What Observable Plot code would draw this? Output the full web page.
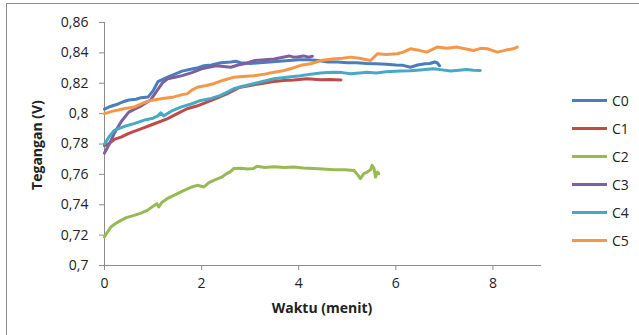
<!DOCTYPE html>
<html><head><meta charset="utf-8">
<script src="https://cdn.jsdelivr.net/npm/d3@7"></script>
<script src="https://cdn.jsdelivr.net/npm/@observablehq/plot@0.6"></script>
<style>
body{margin:0;background:#fff;}
#wrap{position:relative;width:639px;height:335px;overflow:hidden;font-family:"Open Sans",sans-serif;color:#222;}
#frame{position:absolute;left:6px;top:3px;width:700px;height:400px;border:1.5px solid #8c8c8c;box-sizing:border-box;}
#wrap svg.plot{position:absolute;left:0;top:0;}
.lab{position:absolute;font-weight:bold;font-size:14px;white-space:nowrap;}
.leg{position:absolute;left:572px;font-size:14px;display:flex;align-items:center;height:20px;}
.leg span.l{display:inline-block;width:35px;height:3px;margin-right:5px;}
</style></head>
<body><div id="wrap"><div id="frame"></div></div>
<script>
const seriesNames = ["C0","C1","C2","C3","C4","C5"];
const seriesColors = ["#4a7ebb","#be4b48","#98b954","#7d60a0","#46aac5","#f79646"];
const yTicks = [0.70,0.72,0.74,0.76,0.78,0.80,0.82,0.84,0.86];
const xTicks = [0,2,4,6,8];

const c0 = [[0,0.803],[0.1,0.8045],[0.25,0.806],[0.4,0.808],[0.5,0.809],[0.65,0.8095],[0.75,0.8105],[0.9,0.811],[1.0,0.815],[1.1,0.821],[1.3,0.824],[1.45,0.826],[1.6,0.828],[1.75,0.829],[1.9,0.830],[2.05,0.8315],[2.2,0.832],[2.4,0.8335],[2.6,0.834],[2.7,0.8345],[2.8,0.8335],[3.0,0.833],[3.2,0.8335],[3.4,0.834],[3.6,0.8345],[3.8,0.835],[4.0,0.8355],[4.2,0.8355],[4.4,0.835],[4.6,0.834],[4.8,0.834],[5.0,0.8335],[5.2,0.8335],[5.4,0.833],[5.6,0.8328],[5.8,0.8325],[6.0,0.832],[6.15,0.8318],[6.3,0.8305],[6.45,0.832],[6.6,0.8328],[6.7,0.833],[6.8,0.834],[6.85,0.8335],[6.9,0.8315]];
const c1 = [[0,0.779],[0.1,0.7805],[0.2,0.783],[0.34,0.7845],[0.5,0.787],[0.75,0.790],[1.0,0.793],[1.29,0.7966],[1.5,0.800],[1.7,0.8032],[1.9,0.805],[2.11,0.8076],[2.3,0.810],[2.52,0.813],[2.7,0.816],[2.8,0.8174],[3.0,0.8185],[3.21,0.8197],[3.45,0.821],[3.69,0.8218],[3.9,0.8222],[4.17,0.823],[4.45,0.8223],[4.65,0.8225],[4.87,0.8222]];
const c2 = [[0,0.7188],[0.06,0.722],[0.13,0.7253],[0.22,0.7275],[0.34,0.7297],[0.45,0.7315],[0.61,0.733],[0.75,0.7345],[0.88,0.7363],[1.0,0.739],[1.08,0.7407],[1.12,0.7385],[1.18,0.7415],[1.29,0.744],[1.45,0.7465],[1.64,0.7495],[1.78,0.7515],[1.91,0.7528],[2.05,0.7517],[2.15,0.7545],[2.25,0.756],[2.4,0.758],[2.52,0.7605],[2.6,0.762],[2.66,0.7638],[2.8,0.764],[2.95,0.7635],[3.07,0.7638],[3.14,0.7653],[3.3,0.7645],[3.5,0.765],[3.7,0.7645],[3.9,0.7648],[4.1,0.7642],[4.31,0.7638],[4.5,0.7635],[4.72,0.7631],[4.95,0.763],[5.14,0.7626],[5.22,0.7595],[5.27,0.7572],[5.34,0.7605],[5.41,0.7615],[5.48,0.763],[5.51,0.7659],[5.55,0.764],[5.58,0.7582],[5.62,0.7615],[5.65,0.7605]];
const c3 = [[0,0.774],[0.05,0.777],[0.1,0.780],[0.2,0.787],[0.35,0.795],[0.5,0.801],[0.62,0.803],[0.75,0.805],[0.95,0.809],[1.1,0.816],[1.2,0.8205],[1.3,0.823],[1.45,0.824],[1.6,0.825],[1.8,0.827],[2.0,0.8295],[2.15,0.8305],[2.3,0.8315],[2.45,0.831],[2.6,0.8305],[2.75,0.832],[2.9,0.833],[3.1,0.835],[3.3,0.8355],[3.5,0.836],[3.65,0.837],[3.8,0.838],[3.9,0.8372],[4.0,0.8375],[4.1,0.838],[4.2,0.8372],[4.28,0.8378]];
const c4 = [[0,0.780],[0.1,0.785],[0.2,0.789],[0.4,0.7915],[0.61,0.7934],[0.85,0.796],[1.0,0.797],[1.1,0.7985],[1.16,0.8005],[1.22,0.7985],[1.4,0.802],[1.57,0.8043],[1.8,0.8065],[1.98,0.8087],[2.2,0.810],[2.39,0.812],[2.55,0.8145],[2.66,0.8164],[2.85,0.818],[3.07,0.8197],[3.3,0.8215],[3.49,0.823],[3.75,0.824],[4.04,0.825],[4.25,0.826],[4.45,0.8267],[4.6,0.827],[4.72,0.8273],[4.9,0.827],[5.07,0.8262],[5.25,0.8268],[5.41,0.8272],[5.6,0.8268],[5.8,0.8275],[6.1,0.828],[6.3,0.8283],[6.5,0.8288],[6.78,0.8295],[6.95,0.8288],[7.13,0.828],[7.3,0.8285],[7.46,0.829],[7.6,0.8285],[7.74,0.8284]];
const c5 = [[0,0.800],[0.15,0.8015],[0.4,0.8032],[0.61,0.8043],[0.8,0.807],[0.95,0.8087],[1.2,0.810],[1.43,0.811],[1.6,0.8125],[1.7,0.813],[1.8,0.8155],[1.91,0.8174],[2.1,0.8185],[2.25,0.8197],[2.45,0.822],[2.67,0.824],[2.85,0.8245],[3.08,0.825],[3.3,0.826],[3.49,0.8273],[3.65,0.828],[3.83,0.8295],[4.04,0.8318],[4.25,0.8328],[4.45,0.835],[4.7,0.836],[4.9,0.8365],[5.07,0.8372],[5.25,0.8365],[5.4,0.8355],[5.48,0.835],[5.62,0.8394],[5.8,0.839],[6.03,0.8394],[6.15,0.8405],[6.3,0.8427],[6.5,0.8415],[6.64,0.8405],[6.85,0.8438],[7.05,0.843],[7.26,0.8438],[7.45,0.8425],[7.6,0.8416],[7.75,0.843],[7.88,0.8427],[8.0,0.8415],[8.09,0.8405],[8.29,0.842],[8.42,0.8427],[8.5,0.8438]];

const allSeries = [c0,c1,c2,c3,c4,c5];
const data = allSeries.flatMap((s,i)=>s.map(([x,y])=>({x,y,s:seriesNames[i]})));
const fmt = d => String(+d.toFixed(2)).replace(".", ",");

const chart = Plot.plot({
  width:639, height:335,
  marginLeft:104, marginRight:98, marginTop:22, marginBottom:70,
  style:{fontFamily:"'Open Sans',sans-serif",fontSize:"14px",color:"#222",background:"transparent"},
  x:{domain:[0,9], ticks:xTicks, tickSize:5, tickPadding:8, label:null, tickFormat:d=>String(d)},
  y:{domain:[0.7,0.86], ticks:yTicks, tickSize:5, tickPadding:11, label:null, tickFormat:fmt},
  color:{domain:seriesNames, range:seriesColors},
  marks:[
    Plot.axisX({ticks:xTicks, tickSize:5, tickPadding:8, stroke:"#8c8c8c", label:null, tickFormat:d=>String(d)}),
    Plot.axisY({ticks:yTicks, tickSize:5, tickPadding:11, stroke:"#8c8c8c", label:null, tickFormat:fmt}),
    Plot.ruleY([0.7],{stroke:"#8c8c8c"}),
    Plot.ruleX([0],{stroke:"#8c8c8c"}),
    Plot.line(data,{x:"x",y:"y",z:"s",stroke:"s",strokeWidth:3,strokeLinejoin:"round",strokeLinecap:"round"})
  ]
});
chart.classList.add("plot");
const wrap = document.getElementById("wrap");
wrap.appendChild(chart);

const xl = document.createElement("div");
xl.className="lab"; xl.textContent="Waktu (menit)";
xl.style.left="322px"; xl.style.top="298px"; xl.style.transform="translateX(-50%)";
wrap.appendChild(xl);
const yl = document.createElement("div");
yl.className="lab"; yl.textContent="Tegangan (V)";
yl.style.left="36px"; yl.style.top="145px"; yl.style.transform="translate(-50%,-50%) rotate(-90deg)";
wrap.appendChild(yl);

seriesNames.forEach((n,i)=>{
  const d=document.createElement("div");
  d.className="leg"; d.style.top=(90+i*28)+"px";
  d.innerHTML=`<span class="l" style="background:${seriesColors[i]}"></span><span>${n}</span>`;
  wrap.appendChild(d);
});
</script>
</body></html>
